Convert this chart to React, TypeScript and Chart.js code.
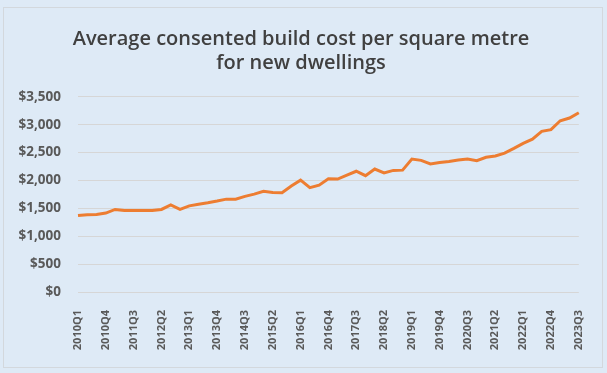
import React, { useEffect, useRef } from "react";
import { Chart, registerables } from "chart.js";

Chart.register(...registerables);

const years = [2010, 2011, 2012, 2013, 2014, 2015, 2016, 2017, 2018, 2019, 2020, 2021, 2022, 2023];
const quarters = ["Q1", "Q2", "Q3", "Q4"];
const categories: string[] = [];
years.forEach((y) => quarters.forEach((q) => { if (!(y === 2023 && q === "Q4")) categories.push(`${y}${q}`); }));

const costPerSqm = [
  1370, 1385, 1390, 1415, 1480, 1460, 1460, 1460, 1460, 1480,
  1560, 1480, 1545, 1575, 1600, 1630, 1665, 1665, 1715, 1755,
  1805, 1785, 1780, 1900, 2005, 1870, 1915, 2030, 2025, 2095,
  2165, 2085, 2205, 2135, 2180, 2185, 2385, 2360, 2295, 2320,
  2340, 2365, 2385, 2355, 2415, 2440, 2490, 2575, 2665, 2740,
  2880, 2910, 3070, 3120, 3215,
];

const titleLines = ["Average consented build cost per square metre", "for new dwellings"];
const yTicks = [0, 500, 1000, 1500, 2000, 2500, 3000, 3500];

export default function App() {
  const ref = useRef<HTMLCanvasElement | null>(null);
  useEffect(() => {
    if (!ref.current) return;
    const chart = new Chart(ref.current, {
      type: "line",
      data: {
        labels: categories,
        datasets: [
          {
            data: costPerSqm,
            borderColor: "#ED7D31",
            borderWidth: 3,
            pointRadius: 0,
            tension: 0,
            fill: false,
          },
        ],
      },
      options: {
        animation: false,
        responsive: false,
        maintainAspectRatio: false,
        layout: { padding: { left: 4, right: 8, top: 0, bottom: 15 } },
        plugins: {
          legend: { display: false },
          tooltip: { enabled: false },
          title: {
            display: true,
            text: titleLines,
            color: "#404040",
            font: { family: "'Open Sans', sans-serif", size: 20, weight: "600", lineHeight: 1.22 },
            padding: { top: 19, bottom: 21 },
          },
        },
        scales: {
          x: {
            offset: false,
            grid: { display: false },
            border: { display: false },
            afterFit: (s: any) => { s.height = 60; },
            ticks: {
              autoSkip: false,
              minRotation: 90,
              maxRotation: 90,
              color: "#595959",
              font: { family: "'Open Sans', sans-serif", size: 11, weight: "700" },
              padding: 10,
              callback: (_v: any, i: number) => (i % 3 === 0 ? categories[i] : ""),
            },
          },
          y: {
            min: 0,
            max: 3500,
            afterBuildTicks: (axis: any) => {
              axis.ticks = yTicks.map((v) => ({ value: v }));
            },
            afterFit: (s: any) => { s.width = 70; },
            grid: { color: "#d6d6d6", drawTicks: false, lineWidth: 1 },
            border: { display: false },
            ticks: {
              color: "#595959",
              padding: 17,
              font: { family: "'Open Sans', sans-serif", size: 13.5, weight: "700" },
              callback: (v: any) => "$" + Number(v).toLocaleString("en-US"),
            },
          },
          yRight: {
            type: "linear",
            position: "right",
            display: true,
            grid: { display: false, drawTicks: false },
            border: { display: false },
            ticks: { display: false },
            afterFit: (s: any) => { s.width = 14; },
          },
        },
      },
    });
    return () => chart.destroy();
  }, []);
  return (
    <div style={{ position: "fixed", left: 0, top: 0, width: 607, height: 373, background: "#deeaf6" }}>
      <div
        style={{
          position: "absolute",
          left: 3,
          top: 7,
          width: 598,
          height: 359,
          border: "1px solid #d3d8dd",
          background: "#deeaf6",
        }}
      >
        <canvas ref={ref} width={598} height={359} style={{ display: "block" }} />
      </div>
    </div>
  );
}
